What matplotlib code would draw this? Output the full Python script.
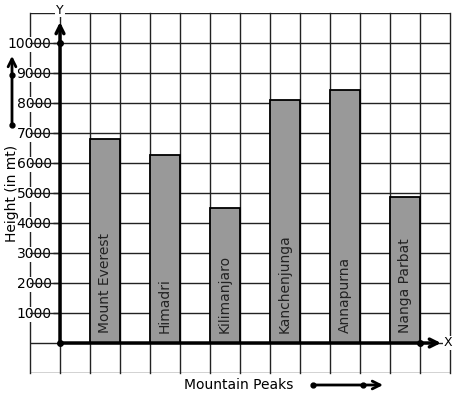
import numpy as np
import matplotlib.pyplot as plt

peaks = ['Mount Everest', 'Himadri', 'Kilimanjaro', 'Kanchenjunga', 'Annapurna', 'Nanga Parbat']
heights = [6800, 6270, 4500, 8100, 8450, 4880]
y_ticks = [1000, 2000, 3000, 4000, 5000, 6000, 7000, 8000, 9000, 10000]

fig = plt.figure(figsize=(4.57, 3.99), dpi=100)
# grid region: 30..450 px wide, 13..373 px tall
ax = fig.add_axes([30 / 457, 26 / 399, 420 / 457, 360 / 399])
ax.set_xlim(-1, 13)
ax.set_ylim(-1000, 11000)

# grid on minor ticks, labels on major ticks
ax.yaxis.remove_overlapping_locs = False
ax.set_xticks([])
ax.set_xticks(np.arange(-1, 14), minor=True)
ax.set_yticks(y_ticks)
ax.set_yticklabels([str(t) for t in y_ticks], fontsize=8.5)
ax.set_yticks(np.arange(-1000, 11001, 1000), minor=True)
ax.tick_params(axis='y', which='major', length=5, width=1, pad=1, color='black')
ax.tick_params(which='minor', length=0)
ax.grid(True, which='minor', color='#222222', linewidth=1)
ax.grid(False, which='major')
for tk in ax.xaxis.get_minor_ticks() + ax.yaxis.get_minor_ticks():
    tk.gridline.set_clip_on(False)
ax.set_axisbelow(True)
for s in ['top', 'right', 'bottom']:
    ax.spines[s].set_visible(False)
ax.spines['left'].set_position(('data', 0))
ax.spines['left'].set_color('none')
for lbl in ax.get_yticklabels():
    lbl.set_bbox(dict(facecolor='white', edgecolor='none', pad=0.5))

# bars
xpos = np.arange(len(peaks)) * 2 + 1.5
ax.bar(xpos, heights, width=1, color='#999999', edgecolor='black', linewidth=1.3, zorder=3)
for x, name in zip(xpos, peaks):
    ax.text(x, 330, name, rotation=90, ha='center', va='bottom', fontsize=10,
            color='#222222', zorder=4)

# axes with arrows
arrow = dict(arrowstyle='->', lw=2.5, color='black', mutation_scale=14, shrinkA=0, shrinkB=0)
ax.annotate('', xy=(0, 10700), xytext=(0, 0), arrowprops=arrow, annotation_clip=False, zorder=5)
ax.annotate('', xy=(12.7, 0), xytext=(0, 0), arrowprops=arrow, annotation_clip=False, zorder=5)
ax.plot([0, 0, 12], [0, 10000, 0], 'o', color='black', markersize=4, zorder=6, clip_on=False)
ax.text(0, 11100, 'Y', ha='center', va='center', fontsize=9, clip_on=False,
        bbox=dict(facecolor='white', edgecolor='none', pad=0.5))
ax.text(12.93, 0, 'X', ha='center', va='center', fontsize=9, clip_on=False,
        bbox=dict(facecolor='white', edgecolor='none', pad=0.5))

# axis titles
ax.text(-1.6, 5000, 'Height (in mt)', rotation=90, ha='center', va='center', fontsize=10,
        clip_on=False)
ax.text(5.95, -1400, 'Mountain Peaks', ha='center', va='center', fontsize=10, clip_on=False)

# decorative arrows
arrow2 = dict(arrowstyle='->', lw=2, color='black', mutation_scale=14, shrinkA=0, shrinkB=0)
ax.annotate('', xy=(-1.6, 9570), xytext=(-1.6, 7270), arrowprops=arrow2, annotation_clip=False)
ax.plot([-1.6, -1.6], [7270, 8930], 'o', color='black', markersize=3.5, clip_on=False)
ax.annotate('', xy=(10.77, -1400), xytext=(8.43, -1400), arrowprops=arrow2, annotation_clip=False)
ax.plot([8.43, 10.1], [-1400, -1400], 'o', color='black', markersize=3.5, clip_on=False)

fig.savefig('out.png', dpi=100)
